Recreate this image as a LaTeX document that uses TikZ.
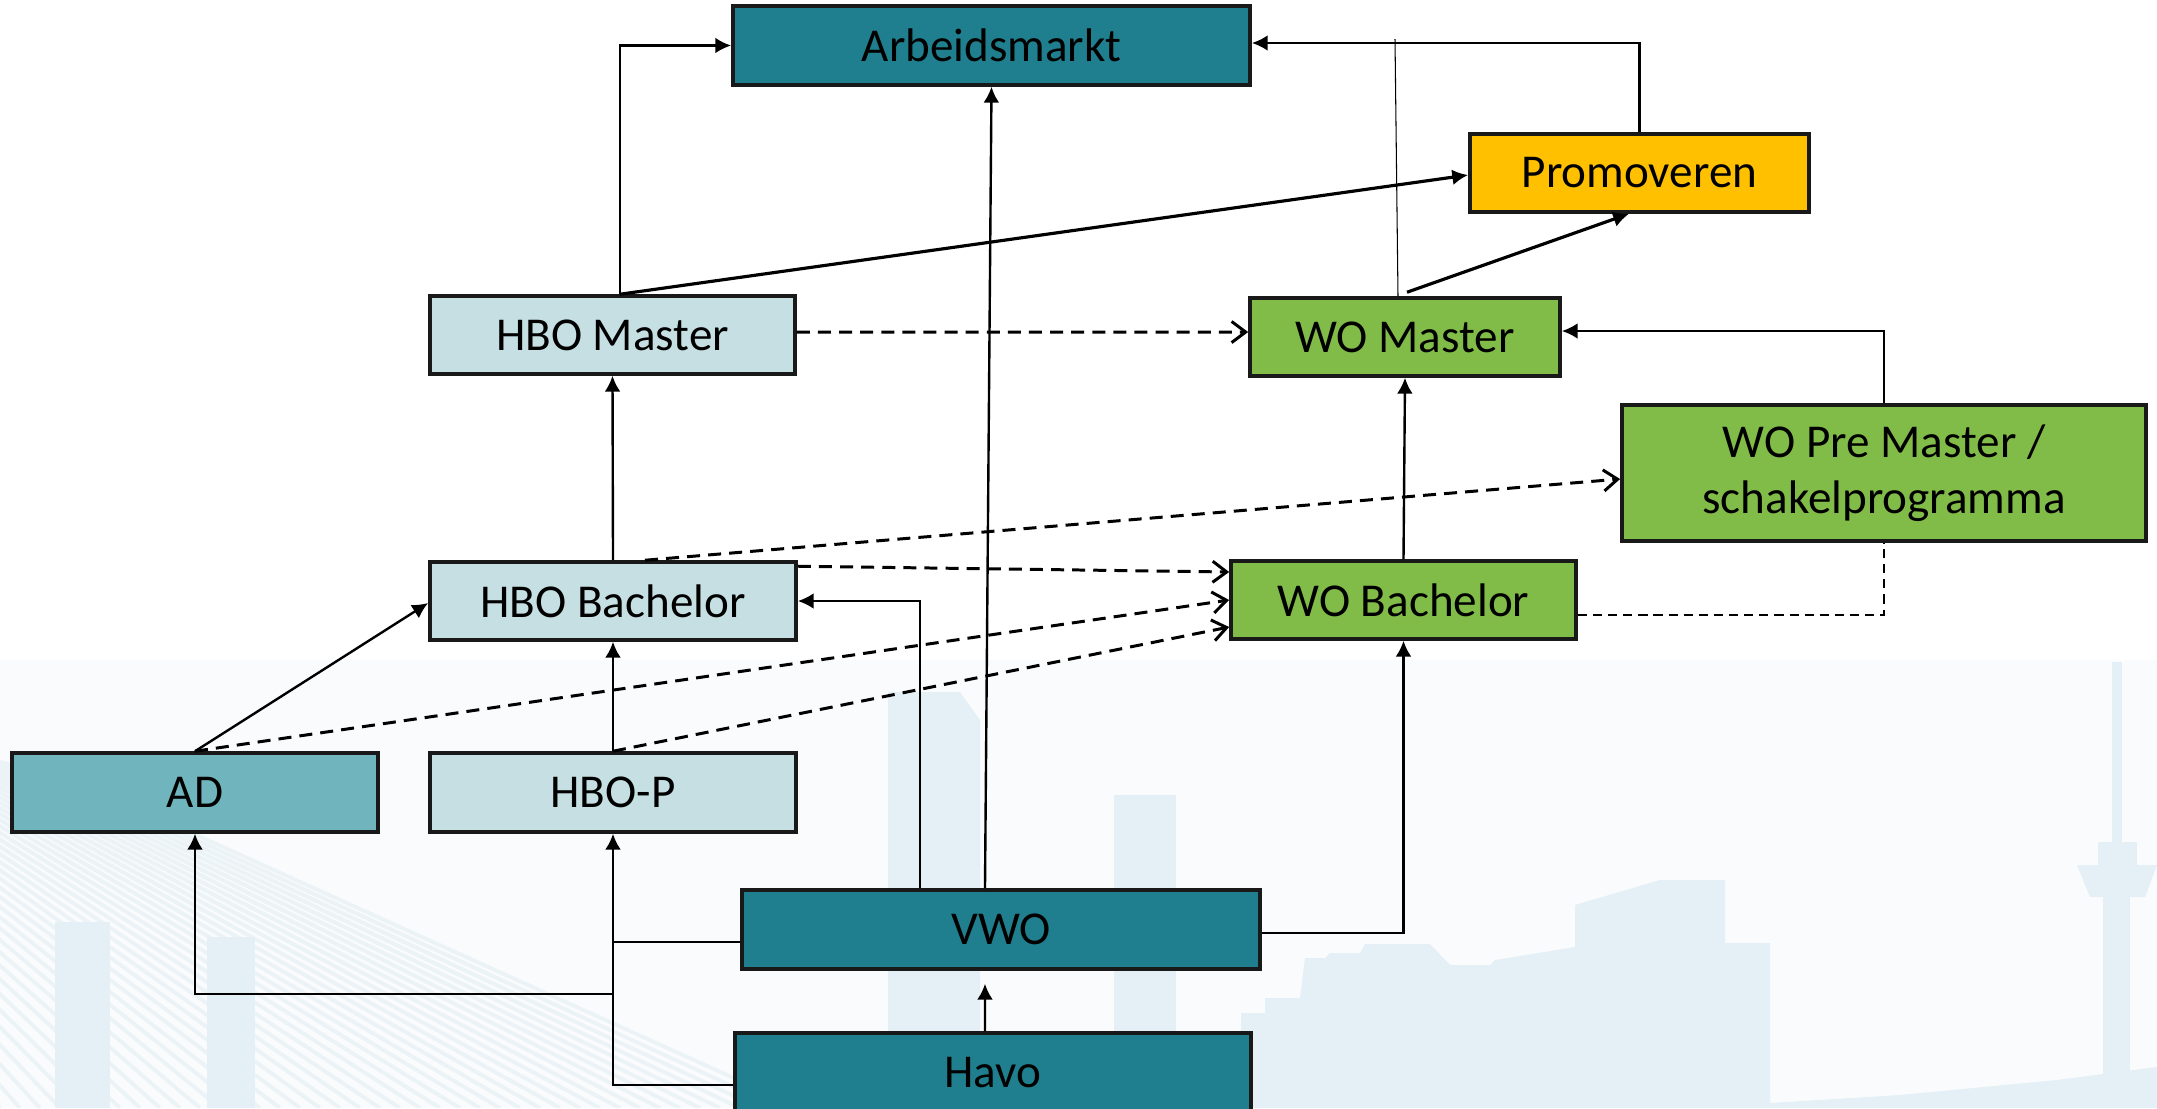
\documentclass[tikz,border=0pt]{standalone}
\usepackage{fontspec}
\setmainfont{Carlito}
\usetikzlibrary{arrows.meta,calc}
\definecolor{tealA}{RGB}{31,127,142}
\definecolor{adcol}{RGB}{112,180,189}
\definecolor{hbocol}{RGB}{198,223,227}
\definecolor{wocol}{RGB}{130,188,72}
\definecolor{promcol}{RGB}{255,192,0}
\definecolor{bgcol}{RGB}{250,251,252}
\definecolor{skycol}{RGB}{228,240,245}
\definecolor{stripecol}{RGB}{236,243,247}
\begin{document}
\begin{tikzpicture}[x=0.01cm,y=-0.01cm,
  box/.style={draw=black!90,line width=1.0pt,inner sep=0pt,align=center,
    font=\fontsize{13.4}{15.8}\selectfont},
  conn/.style={line width=0.68pt,-{Latex[length=4.5pt,width=4.5pt]}},
  thickconn/.style={line width=0.9pt,-{Latex[length=4.5pt,width=4.5pt]}},
  dashconn/.style={line width=0.85pt,dash pattern=on 3.7pt off 2.3pt,
    -{Straight Barb[length=4pt,width=6pt]}},
  thindash/.style={line width=0.5pt,dash pattern=on 2.6pt off 1.7pt},
  thinline/.style={line width=0.3pt},
  midline/.style={line width=0.5pt},
  stripe/.style={draw=stripecol,line width=1.1pt}]
\useasboundingbox (0,0) rectangle (2157,1108);
% background
\fill[white] (0,0) rectangle (2157,660);
\fill[bgcol] (0,660) rectangle (2157,1108);
\begin{scope}
  \clip (0,760) -- (350,860) -- (820,1108) -- (0,1108) -- cycle;
  \foreach \k in {0,...,45} {
    \draw[stripe] (-500,520) -- ({-100+\k*20},1108);
  }
\end{scope}
\fill[skycol] (55,922) rectangle (110,1108);
\fill[skycol] (207,937) rectangle (255,1108);
\fill[skycol] (888,692) -- (960,692) -- (980,720) -- (980,1108) -- (888,1108) -- cycle;
\fill[skycol] (1114,795) rectangle (1176,1108);
\fill[skycol] (1241,1108) -- (1241,1013) -- (1265,1013) -- (1265,998) -- (1300,998)
  -- (1305,958) -- (1325,958) -- (1330,953) -- (1360,953) -- (1365,944) -- (1430,944)
  -- (1450,965) -- (1490,965) -- (1495,960) -- (1575,947) -- (1575,905) -- (1660,880)
  -- (1725,880) -- (1725,943) -- (1770,943) -- (1770,1103) -- (1900,1095) -- (2057,1080)
  -- (2157,1067) -- (2157,1108) -- cycle;
\fill[skycol] (2112,662) rectangle (2122,845);
\fill[skycol] (2098,842) rectangle (2137,865);
\fill[skycol] (2077,865) -- (2157,865) -- (2145,897) -- (2090,897) -- cycle;
\fill[skycol] (2103,897) rectangle (2130,1090);

% nodes
\node[box,fill=tealA,minimum width=5.17cm,minimum height=0.79cm] (arb) at (991.5,45.5) {Arbeidsmarkt};
\node[box,fill=promcol,minimum width=3.39cm,minimum height=0.78cm] (prom) at (1639.5,173) {Promoveren};
\node[box,fill=hbocol,minimum width=3.65cm,minimum height=0.78cm] (hbom) at (612.5,335) {HBO Master};
\node[box,fill=wocol,minimum width=3.10cm,minimum height=0.78cm] (wom) at (1405,337) {WO Master};
\node[box,fill=wocol,minimum width=5.24cm,minimum height=1.36cm] (wopre) at (1884,473) {WO Pre Master /\\schakelprogramma};
\node[box,fill=wocol,minimum width=3.45cm,minimum height=0.78cm] (wob) at (1403.5,600) {WO Bachelor};
\node[box,fill=hbocol,minimum width=3.66cm,minimum height=0.78cm] (hbob) at (613,601) {HBO Bachelor};
\node[box,fill=adcol,minimum width=3.66cm,minimum height=0.79cm] (ad) at (195,792.5) {AD};
\node[box,fill=hbocol,minimum width=3.66cm,minimum height=0.79cm] (hbop) at (613,792.5) {HBO-P};
\node[box,fill=tealA,minimum width=5.18cm,minimum height=0.79cm] (vwo) at (1001,929.5) {VWO};
\node[box,fill=tealA,minimum width=5.16cm,minimum height=0.79cm] (havo) at (993,1072.5) {Havo};

% connectors
\draw[conn] ([xshift=0.075cm]hbom.north) |- (arb.west);
\draw[thickconn] ([xshift=0.075cm]hbom.north) -- ([yshift=-0.02cm]prom.west);
\draw[conn] ([xshift=-0.16cm]vwo.north) -- (arb.south);
\coordinate (wmtop) at (1395,39);
\draw[thinline] ([xshift=-0.07cm]wom.north) -- (wmtop);
\draw[conn] (prom.north) |- ([yshift=0.025cm]arb.east);
\draw[thickconn] ([xshift=0.02cm,yshift=0.04cm]wom.north) -- ([xshift=-0.105cm]prom.south);
\draw[dashconn] ([yshift=0.03cm]hbom.east) -- ([yshift=0.05cm]wom.west);
\draw[conn] (wopre.north) |- ([yshift=0.06cm]wom.east);
\draw[conn] (wob.north) -- (wom.south);
\draw[dashconn] ([xshift=0.32cm]hbob.north) -- ([yshift=-0.06cm]wopre.west);
\draw[dashconn] ([yshift=-0.06cm]hbob.north east) -- ([yshift=0.28cm]wob.west);
\draw[dashconn] (ad.north) -- (wob.west);
\draw[dashconn] (hbop.north) -- ([yshift=-0.27cm]wob.west);
\draw[thindash] ([yshift=-0.15cm]wob.east) -| (wopre.south);
\draw[conn] (ad.north) -- ([yshift=-0.02cm]hbob.west);
\draw[conn] (hbop.north) -- (hbob.south);
\draw[conn] ([xshift=-0.81cm]vwo.north) |- (hbob.east);
\draw[conn] (hbob.north) -- (hbom.south);
\draw[conn] ([yshift=-0.035cm]vwo.east) -| (wob.south);
\draw[conn] ([xshift=-0.08cm]havo.north) -- ([xshift=-0.16cm,yshift=-0.13cm]vwo.south);
\draw[conn] ([yshift=-0.125cm]havo.west) -| (hbop.south);
\coordinate (junc) at (613,994);
\draw[conn] (junc) -| (ad.south);
\coordinate (vl) at ([yshift=-0.125cm]vwo.west);
\draw[midline] (vl) -- (vl -| hbop.south);
\end{tikzpicture}
\end{document}
